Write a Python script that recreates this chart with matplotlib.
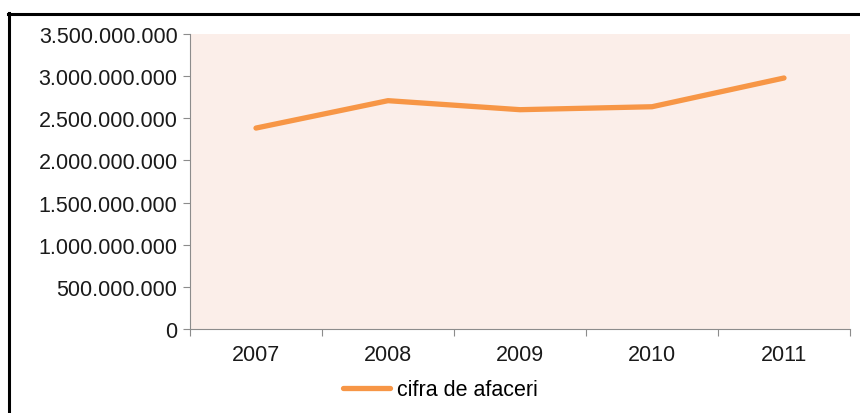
import matplotlib.pyplot as plt
import numpy as np
from matplotlib.lines import Line2D
from matplotlib.ticker import FuncFormatter

''' Customize '''
plot_bg = "#FBEEE9"
orange = "#F79646"
axis_grey = "#8C8C8C"
text_col = "#1a1a1a"
fs = 15.5

''' Data '''
years = ["2007", "2008", "2009", "2010", "2011"]
turnover = [2384000000, 2709000000, 2602000000, 2637000000, 2978000000]
y_ticks = [0, 500e6, 1000e6, 1500e6, 2000e6, 2500e6, 3000e6, 3500e6]

plt.rcParams['font.family'] = ['Liberation Sans', 'DejaVu Sans']

fig = plt.figure(figsize=(8.6, 4.14), dpi=100)
ax = fig.add_axes([190 / 860, 1 - 330 / 414, 660 / 860, 295 / 414])
ax.set_facecolor(plot_bg)

x = np.arange(len(years))
ax.plot(x, turnover, color=orange, lw=3.8, solid_capstyle='round',
        solid_joinstyle='round', label="cifra de afaceri")

ax.set_xlim(-0.5, len(years) - 0.5)
ax.set_ylim(0, 3.5e9)

# category boundaries get the tick marks, centers get the labels
ax.set_xticks(np.arange(len(years) + 1) - 0.5, labels=[""] * (len(years) + 1))
ax.set_xticks(x, labels=years, minor=True)
ax.tick_params(axis="x", which="major", length=5, color=axis_grey, direction="out")
ax.tick_params(axis="x", which="minor", length=0, pad=11, labelsize=fs, labelcolor=text_col)

ax.set_yticks(y_ticks)
ax.yaxis.set_major_formatter(FuncFormatter(lambda v, p: f"{int(v):,}".replace(",", ".")))
ax.tick_params(axis="y", length=5, color=axis_grey, pad=4, labelsize=fs, labelcolor=text_col)

ax.spines[["top", "right"]].set_visible(False)
ax.spines[["left", "bottom"]].set_color(axis_grey)

''' Legend '''
fig.legend(
    handles=[Line2D([0], [0], color=orange, lw=3.8, solid_capstyle='round')],
    labels=["cifra de afaceri"],
    loc="center left", bbox_to_anchor=(343 / 860, 1 - 391 / 414),
    frameon=False, fontsize=fs, handlelength=2.2, handletextpad=0.3,
    borderpad=0, borderaxespad=0,
)

''' Outer frame (left and top edges only) '''
fig.add_artist(Line2D([9 / 860, 9 / 860], [0, 1 - 14 / 414], color="black", lw=2.2,
                      transform=fig.transFigure))
fig.add_artist(Line2D([8 / 860, 1], [1 - 14.5 / 414, 1 - 14.5 / 414], color="black", lw=2.2,
                      transform=fig.transFigure))

plt.savefig("out.png", dpi=100)
